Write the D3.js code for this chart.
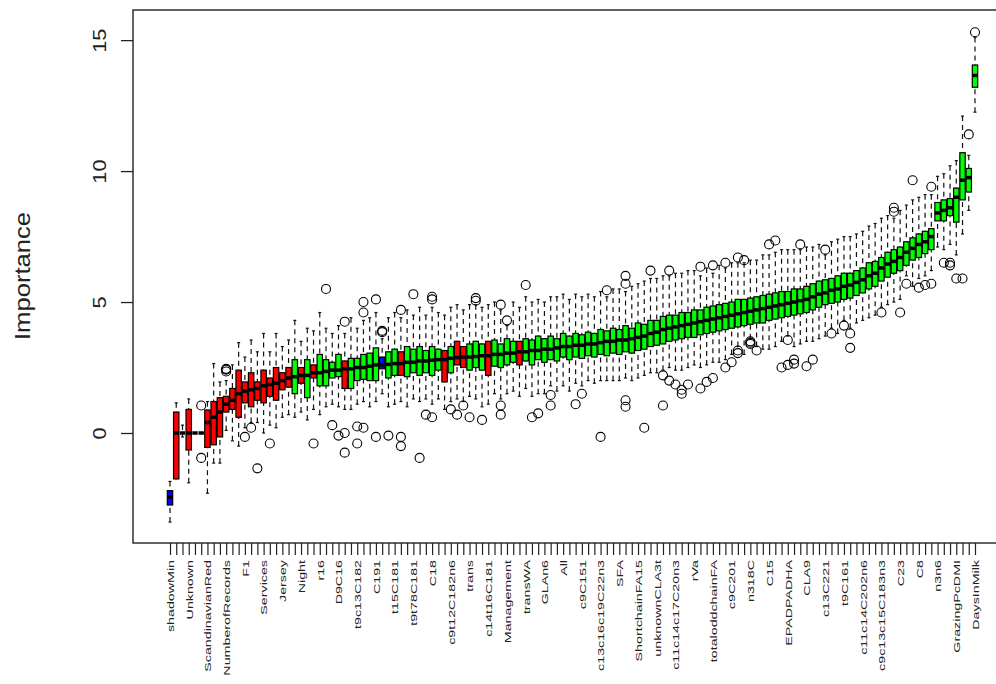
<!DOCTYPE html>
<html>
<head>
<script src="https://cdnjs.cloudflare.com/ajax/libs/d3/7.8.5/d3.min.js"></script>
<style>
    body { margin: 0; background: #fff; }
    svg { display: block; font-family: "Liberation Sans", Arial, sans-serif; }
</style>
</head>
<body>
<div id="chart"></div>
<script>
// Boruta-style importance boxplot, one box per attribute (sorted by median)
const med = [
    -2.45, 0, 0, 0, 0, 0, 0.4, 0.6, 0.8, 1.1,
    1.25, 1.5, 1.6, 1.65, 1.7, 1.8, 1.85, 1.9, 2.0, 2.1,
    2.15, 2.2, 2.2, 2.3, 2.3, 2.35, 2.4, 2.4, 2.45, 2.45,
    2.5, 2.5, 2.55, 2.6, 2.6, 2.62, 2.65, 2.65, 2.7, 2.7,
    2.75, 2.75, 2.78, 2.8, 2.8, 2.85, 2.88, 2.9, 2.9, 2.92,
    2.95, 2.95, 3.0, 3.0, 3.05, 3.05, 3.1, 3.1, 3.15, 3.15,
    3.2, 3.2, 3.25, 3.3, 3.3, 3.35, 3.35, 3.4, 3.4, 3.45,
    3.5, 3.5, 3.55, 3.55, 3.6, 3.65, 3.7, 3.8, 3.85, 3.95,
    4.0, 4.05, 4.1, 4.15, 4.2, 4.25, 4.3, 4.35, 4.4, 4.45,
    4.5, 4.55, 4.6, 4.65, 4.7, 4.75, 4.8, 4.85, 4.9, 4.95,
    5.0, 5.05, 5.1, 5.2, 5.3, 5.35, 5.45, 5.5, 5.6, 5.65,
    5.75, 5.85, 6.0, 6.1, 6.3, 6.45, 6.55, 6.7, 6.9, 7.05,
    7.2, 7.3, 7.5, 8.4, 8.5, 8.6, 9.0, 9.65, 9.75, 13.65
];
const q1 = [
    -2.75, -1.75, 0, -0.65, 0, 0, -0.55, -0.45, -0.15, 0.8,
    0.9, 0.6, 1.15, 1.0, 1.25, 1.15, 1.4, 1.25, 1.65, 1.75,
    1.5, 1.9, 1.35, 2.1, 1.8, 1.8, 2.1, 2.15, 1.7, 1.7,
    2.0, 2.05, 2.0, 2.0, 2.45, 2.1, 2.2, 2.2, 2.15, 2.3,
    2.2, 2.3, 2.2, 2.4, 1.95, 2.3, 2.6, 2.5, 2.4, 2.5,
    2.4, 2.2, 2.55, 2.5, 2.6, 2.7, 2.6, 2.75, 2.6, 2.8,
    2.7, 2.8, 2.75, 2.9, 2.8, 2.9, 2.85, 2.95, 2.9, 3.0,
    2.95, 3.05, 3.0, 3.1, 3.05, 3.15, 3.2, 3.3, 3.35, 3.4,
    3.5, 3.55, 3.6, 3.65, 3.65, 3.75, 3.8, 3.85, 3.9, 3.95,
    4.0, 4.05, 4.1, 4.15, 4.2, 4.2, 4.3, 4.35, 4.4, 4.45,
    4.5, 4.55, 4.6, 4.7, 4.8, 4.9, 4.95, 5.0, 5.1, 5.15,
    5.25, 5.35, 5.5, 5.6, 5.8, 5.95, 6.1, 6.2, 6.4, 6.6,
    6.7, 6.85, 7.0, 8.1, 8.1, 8.3, 8.05, 8.9, 9.2, 13.2
];
const q3 = [
    -2.2, 0.8, 0, 0.9, 0, 0, 0.88, 1.2, 1.35, 1.4,
    1.7, 2.4, 1.95, 2.3, 1.95, 2.4, 2.1, 2.5, 2.3, 2.5,
    2.8, 2.5, 2.8, 2.6, 3.0, 2.8, 2.7, 3.0, 2.75, 2.85,
    2.85, 3.0, 3.05, 3.25, 2.9, 3.1, 3.2, 3.1, 3.3, 3.2,
    3.3, 3.15, 3.3, 3.2, 3.15, 3.3, 3.5, 3.3, 3.4, 3.5,
    3.4, 3.5, 3.55, 3.4, 3.6, 3.5, 3.5, 3.6, 3.55, 3.7,
    3.6, 3.7, 3.6, 3.8, 3.7, 3.8, 3.75, 3.85, 3.8, 3.95,
    3.9, 4.0, 3.95, 4.1, 4.0, 4.2, 4.15, 4.3, 4.3, 4.45,
    4.5, 4.5, 4.6, 4.6, 4.7, 4.7, 4.8, 4.85, 4.9, 4.95,
    5.0, 5.1, 5.1, 5.15, 5.2, 5.25, 5.3, 5.35, 5.4, 5.4,
    5.5, 5.5, 5.6, 5.7, 5.8, 5.85, 5.9, 6.0, 6.1, 6.1,
    6.2, 6.3, 6.5, 6.55, 6.7, 6.9, 7.0, 7.1, 7.3, 7.45,
    7.6, 7.7, 7.8, 8.8, 8.9, 8.95, 9.35, 10.7, 10.1, 14.05
];
const wlo = [
    -3.4, -1.75, -0.15, -1.9, 0, 0, -2.3, -1.15, -1.15, 0.1,
    -0.3, -0.5, 0.2, 0.4, 0.4, 0.0, 0.3, 0.2, 0.6, 0.7,
    0.6, 0.8, 0.5, 0.9, 0.7, 1.0, 1.1, 1.0, 0.9, 0.9,
    1.1, 1.2, 1.0, 1.2, 1.5, 1.0, 1.1, 1.2, 1.0, 1.3,
    1.2, 1.3, 1.1, 1.3, 0.9, 1.2, 1.3, 1.2, 1.4, 1.3,
    1.0, 1.1, 1.5, 1.3, 1.5, 1.6, 1.4, 1.7, 1.4, 1.5,
    1.5, 1.8, 1.6, 1.8, 1.6, 1.9, 1.8, 2.0, 1.9, 2.0,
    2.0, 2.0, 2.0, 2.1, 2.0, 2.1, 2.2, 2.3, 2.3, 2.4,
    2.5, 2.4, 2.4, 2.5, 2.6, 2.5, 2.6, 2.7, 2.7, 2.8,
    3.0, 3.3, 3.0, 3.6, 3.3, 3.2, 3.2, 3.3, 3.5, 3.7,
    3.3, 3.4, 3.5, 3.5, 3.6, 3.7, 4.0, 3.8, 4.3, 4.0,
    4.2, 4.3, 4.4, 4.5, 4.8, 4.9, 5.0, 5.1, 6.0, 5.6,
    5.9, 6.0, 6.2, 7.1, 7.0, 7.2, 6.8, 7.6, 8.5, 12.25
];
const whi = [
    -1.85, 1.15, 0.3, 1.3, 0, 0, 1.2, 2.65, 1.95, 2.0,
    2.6, 3.45, 2.9, 3.55, 3.1, 3.8, 3.1, 3.8, 3.3, 3.55,
    4.3, 3.5, 4.0, 3.9, 4.6, 4.0, 3.8, 4.1, 3.8, 4.4,
    4.0, 4.3, 4.4, 4.6, 3.6, 4.4, 4.6, 4.4, 4.7, 4.5,
    4.8, 4.5, 4.8, 4.6, 4.5, 4.8, 4.9, 4.7, 4.9, 4.9,
    4.8, 4.9, 5.0, 4.7, 4.1, 5.0, 4.8, 5.2, 5.0, 5.1,
    5.0, 5.2, 5.2, 5.3, 5.1, 5.3, 5.2, 5.3, 5.2, 5.4,
    5.2, 5.5, 5.5, 5.4, 5.6, 5.7, 5.8, 5.9, 5.9, 6.0,
    6.0, 6.1, 6.1, 6.2, 6.2, 6.0, 6.3, 6.1, 6.4, 6.3,
    6.5, 6.5, 6.5, 6.6, 6.6, 6.8, 6.8, 6.9, 7.0, 7.0,
    7.0, 7.0, 7.1, 7.1, 7.2, 6.8, 7.3, 7.4, 7.5, 7.5,
    7.6, 7.7, 7.9, 8.0, 8.2, 8.3, 8.2, 8.5, 8.7, 8.9,
    9.0, 9.1, 9.1, 9.8, 9.9, 10.2, 10.4, 12.1, 10.6, 15.1
];
// S = shadow, R = rejected, C = confirmed
const decision = [
    "SRRRRRRRRR", "RRRRRRRRRR", "CRCRCCCCRC", "CCCCSCCRCC", "CCCCRCRRCC",
    "CRCCCCRCCC", "CCCCCCCCCC", "CCCCCCCCCC", "CCCCCCCCCC", "CCCCCCCCCC",
    "CCCCCCCCCC", "CCCCCCCCCC", "CCCCCCCCCC"
].join("").split("");
// [box number, value]
const outliers = [
    [6,-0.95],[6,1.05],[10,2.35],[10,2.42],[10,2.45],[13,-0.15],[14,0.2],[15,-1.35],
    [17,-0.4],[24,-0.4],[26,5.5],[27,0.3],[28,-0.1],[29,-0.75],[29,0.0],[29,4.25],
    [31,0.25],[31,-0.4],[32,0.2],[32,4.6],[32,5.0],[34,-0.15],[34,5.1],[35,3.85],
    [35,3.9],[36,-0.1],[38,-0.15],[38,-0.5],[38,4.7],[40,5.3],[41,-0.95],[42,0.7],
    [43,5.1],[43,5.2],[43,0.6],[46,0.9],[47,0.7],[48,1.05],[49,0.6],[50,5.05],
    [50,5.15],[51,0.5],[54,4.9],[54,0.7],[54,1.05],[55,4.3],[58,5.65],[59,0.6],
    [60,0.75],[62,1.05],[62,1.45],[66,1.1],[67,1.5],[70,-0.15],[71,5.45],[74,5.7],
    [74,6.0],[74,1.0],[74,1.25],[77,0.2],[78,6.2],[80,1.05],[80,2.2],[81,2.0],
    [81,6.2],[82,1.85],[83,1.65],[83,1.5],[84,1.85],[86,6.35],[86,1.7],[87,1.95],
    [88,2.1],[88,6.4],[90,6.5],[90,2.5],[91,2.7],[92,3.15],[92,3.05],[92,6.7],
    [93,6.6],[94,3.4],[94,3.45],[94,3.5],[95,3.15],[97,7.2],[98,7.35],[99,2.5],
    [100,3.55],[100,2.6],[101,2.65],[101,2.8],[102,7.2],[103,2.55],[104,2.8],[106,7.0],
    [107,3.8],[109,4.1],[110,3.25],[110,3.8],[115,4.6],[117,8.45],[117,8.6],[118,4.6],
    [119,5.7],[120,9.65],[121,5.55],[122,5.65],[123,9.4],[123,5.7],[125,6.5],[126,6.4],
    [126,6.5],[127,5.9],[128,5.9],[129,11.4],[130,15.3]
];
// only every third name fits under the axis
const tickLabels = [
    "shadowMin", "Unknown", "ScandinavianRed", "NumberofRecords", "F1", "Services",
    "Jersey", "Night", "r16", "D9C16", "t9c13C182", "C191", "t15C181", "t9t78C181",
    "C18", "c9t12C182n6", "trans", "c14t16C181", "Management", "transWA", "GLAn6",
    "All", "c9C151", "c13c16c19C22n3", "SFA", "ShortchainFA15", "unknownCLA3t",
    "c11c14c17C20n3", "rVa", "totaloddchainFA", "c9C201", "n318C", "C15", "EPADPADHA",
    "CLA9", "c13C221", "t9C161", "c11c14C202n6", "c9c13c15C183n3", "C23", "C8",
    "n3n6", "GrazingPcDMI", "DaysInMilk"
];
const yTicks = [0, 5, 10, 15];

const width = 996;
const height = 684;
const plot = {left: 133, top: 10, right: 1012, bottom: 543};

const svg = d3.select("#chart")
    .append("svg")
    .attr("width", width)
    .attr("height", height);

const x = d3.scaleLinear().domain([1, med.length]).range([170, 975]);
const y = d3.scaleLinear().domain([-4.2, 16.15]).range([plot.bottom, plot.top]);

const colors = {S: "#0000ff", R: "#ff0000", C: "#00ff00"};
const half = 2.7;

const boxes = med.map((m, i) => ({
    n: i + 1, med: m, q1: q1[i], q3: q3[i], lo: wlo[i], hi: whi[i], d: decision[i]
}));

const g = svg.append("g");

// whiskers (dashed, from the whisker end in to the box)
g.selectAll(".wl").data(boxes).enter().append("line")
    .attr("x1", d => x(d.n)).attr("x2", d => x(d.n))
    .attr("y1", d => y(d.lo)).attr("y2", d => y(d.q1))
    .attr("stroke", "#111").attr("stroke-width", 1.2).attr("stroke-dasharray", "5,4");
g.selectAll(".wh").data(boxes).enter().append("line")
    .attr("x1", d => x(d.n)).attr("x2", d => x(d.n))
    .attr("y1", d => y(d.hi)).attr("y2", d => y(d.q3))
    .attr("stroke", "#111").attr("stroke-width", 1.2).attr("stroke-dasharray", "5,4");

// staples
["lo", "hi"].forEach(k => {
    g.selectAll(".st-" + k).data(boxes).enter().append("line")
        .attr("x1", d => x(d.n) - 1.5).attr("x2", d => x(d.n) + 1.5)
        .attr("y1", d => y(d[k])).attr("y2", d => y(d[k]))
        .attr("stroke", "#111").attr("stroke-width", 1.2);
});

// boxes
g.selectAll("rect.box").data(boxes).enter().append("rect")
    .attr("class", "box")
    .attr("x", d => x(d.n) - half)
    .attr("width", half * 2)
    .attr("y", d => y(d.q3))
    .attr("height", d => y(d.q1) - y(d.q3))
    .attr("fill", d => colors[d.d])
    .attr("stroke", "#000")
    .attr("stroke-width", 1.2);

// medians
g.selectAll(".med").data(boxes).enter().append("line")
    .attr("x1", d => x(d.n) - half).attr("x2", d => x(d.n) + half)
    .attr("y1", d => y(d.med)).attr("y2", d => y(d.med))
    .attr("stroke", "#000").attr("stroke-width", 3.5);

// outliers
g.selectAll("circle").data(outliers).enter().append("circle")
    .attr("cx", d => x(d[0]))
    .attr("cy", d => y(d[1]))
    .attr("r", 4.5)
    .attr("fill", "none")
    .attr("stroke", "#000")
    .attr("stroke-width", 1.1);

// frame
svg.append("rect")
    .attr("x", plot.left).attr("y", plot.top)
    .attr("width", plot.right - plot.left).attr("height", plot.bottom - plot.top)
    .attr("fill", "none").attr("stroke", "#222").attr("stroke-width", 1.4);

// x axis
const xAxis = svg.append("g")
    .attr("transform", `translate(0,${plot.bottom})`)
    .call(d3.axisBottom(x)
        .tickValues(d3.range(1, med.length + 1))
        .tickSize(12)
        .tickSizeOuter(0)
        .tickFormat(d => (d - 1) % 3 === 0 ? tickLabels[(d - 1) / 3] : ""));
xAxis.select(".domain").remove();
xAxis.selectAll(".tick line").attr("stroke", "#222").attr("stroke-width", 1.2);
xAxis.selectAll(".tick text")
    .attr("x", 0).attr("y", 0).attr("dy", "0.35em")
    .attr("text-anchor", "end")
    .attr("transform", "translate(0,17) rotate(-90) scale(1.5,1)")
    .attr("font-size", 9.5)
    .attr("fill", "#222");

// y axis
const yAxis = svg.append("g")
    .attr("transform", `translate(${plot.left},0)`)
    .call(d3.axisLeft(y).tickValues(yTicks).tickSize(12).tickSizeOuter(0));
yAxis.select(".domain").remove();
yAxis.selectAll(".tick line").attr("stroke", "#222").attr("stroke-width", 1.3);
yAxis.selectAll(".tick text")
    .attr("x", 0).attr("dy", 0)
    .attr("text-anchor", "middle")
    .attr("transform", "translate(-27,0) rotate(-90) scale(1.15,1)")
    .attr("font-size", 19)
    .attr("fill", "#222");

svg.append("text")
    .attr("transform", "translate(30,276) rotate(-90)")
    .attr("text-anchor", "middle")
    .attr("font-size", 22)
    .attr("textLength", 128)
    .attr("lengthAdjust", "spacingAndGlyphs")
    .attr("fill", "#222")
    .text("Importance");
</script>
</body>
</html>
